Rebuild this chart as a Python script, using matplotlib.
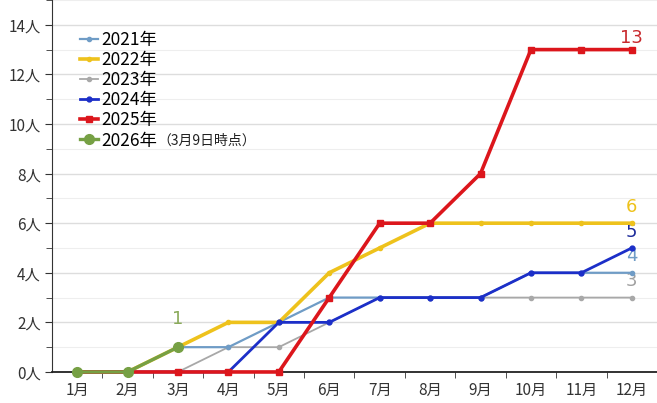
import matplotlib.pyplot as plt
from matplotlib.ticker import MultipleLocator, FixedLocator

plt.rcParams['font.family'] = ['Noto Sans CJK JP', 'DejaVu Sans']

# データ（月ごとの累計人数）
meses = ['1月', '2月', '3月', '4月', '5月', '6月', '7月', '8月', '9月', '10月', '11月', '12月']
y2021 = [0, 0, 1, 1, 2, 3, 3, 3, 3, 4, 4, 4]
y2022 = [0, 0, 1, 2, 2, 4, 5, 6, 6, 6, 6, 6]
y2023 = [0, 0, 0, 1, 1, 2, 3, 3, 3, 3, 3, 3]
y2024 = [0, 0, 0, 0, 2, 2, 3, 3, 3, 4, 4, 5]
y2025 = [0, 0, 0, 0, 0, 3, 6, 6, 8, 13, 13, 13]
y2026 = [0, 0, 1]
y_ticks = [0, 2, 4, 6, 8, 10, 12, 14]

x = list(range(1, 13))

fig = plt.figure(figsize=(6.57, 4.03), dpi=100)
ax = fig.add_axes([0.079, 0.077, 0.921, 0.923])

# 各系列の設定: ラベル, 値, 色, 線幅, マーカー, マーカーサイズ, zorder
series = [
    ('2021年', y2021, '#6f9cc6', 1.6, 'o', 3, 4),
    ('2022年', y2022, '#eec21c', 2.6, 'o', 3, 5),
    ('2023年', y2023, '#a8a8a8', 1.3, 'o', 3, 3),
    ('2024年', y2024, '#1c2fc8', 2.0, 'o', 3.5, 6),
    ('2025年', y2025, '#dc161c', 2.6, 's', 5, 7),
    ('2026年', y2026, '#76a044', 2.4, 'o', 7, 8),
]

for etiqueta, vals, cor, lw, mk, ms, z in series:
    ax.plot(x[:len(vals)], vals, color=cor, linewidth=lw, marker=mk,
            markersize=ms, label=etiqueta, zorder=z, clip_on=False)

# 末尾の数値ラベル
fs = 13
ax.text(12, 13.45, '13', color='#c8282c', fontsize=fs, ha='center', va='center', family=['DejaVu Sans'])
ax.text(12, 6.65, '6', color='#eec21c', fontsize=fs, ha='center', va='center', family=['DejaVu Sans'])
ax.text(12, 5.65, '5', color='#1c2a9a', fontsize=fs, ha='center', va='center', family=['DejaVu Sans'])
ax.text(12, 4.68, '4', color='#6f9cc6', fontsize=fs, ha='center', va='center', family=['DejaVu Sans'])
ax.text(12, 3.67, '3', color='#a0a0a0', fontsize=fs, ha='center', va='center', family=['DejaVu Sans'])
ax.text(3, 2.14, '1', color='#8aaa5a', fontsize=fs, ha='center', va='center', family=['DejaVu Sans'])

ax.set_xlim(0.5, 12.5)
ax.set_ylim(0, 15)
ax.set_xticks(x)
ax.set_xticklabels(meses)
ax.xaxis.set_minor_locator(FixedLocator([i + 0.5 for i in range(1, 12)]))
ax.set_yticks(y_ticks)
ax.set_yticklabels([f'{v}人' for v in y_ticks])
ax.yaxis.set_minor_locator(MultipleLocator(1))

ax.tick_params(axis='x', which='major', length=0, labelsize=11, colors='#333333', pad=7)
ax.tick_params(axis='x', which='minor', length=4, color='#333333', direction='out')
ax.tick_params(axis='y', which='major', length=5, labelsize=11, colors='#333333', pad=3)
ax.tick_params(axis='y', which='minor', length=4, color='#333333')

ax.grid(True, axis='y', which='major', color='#dddddd', linewidth=1.0)
ax.grid(True, axis='y', which='minor', color='#eeeeee', linewidth=0.8)
ax.set_axisbelow(True)

for s in ['top', 'right']:
    ax.spines[s].set_visible(False)
ax.spines['left'].set_color('#333333')
ax.spines['bottom'].set_color('#222222')
ax.spines['bottom'].set_linewidth(1.3)

leg = ax.legend(loc='upper left', bbox_to_anchor=(0.035, 0.935), frameon=False,
                fontsize=12.5, handlelength=1.05, handletextpad=0.15,
                labelspacing=0.12, borderaxespad=0)

# 2026年の注記（小さい文字）
fig.canvas.draw()
bb = leg.get_texts()[5].get_window_extent()
fx, fy = fig.transFigure.inverted().transform((bb.x1 + 1, (bb.y0 + bb.y1) / 2))
fig.text(fx, fy, '（3月9日時点）', fontsize=10, va='center', ha='left', color='#222222')

fig.savefig('out.png', dpi=100)
